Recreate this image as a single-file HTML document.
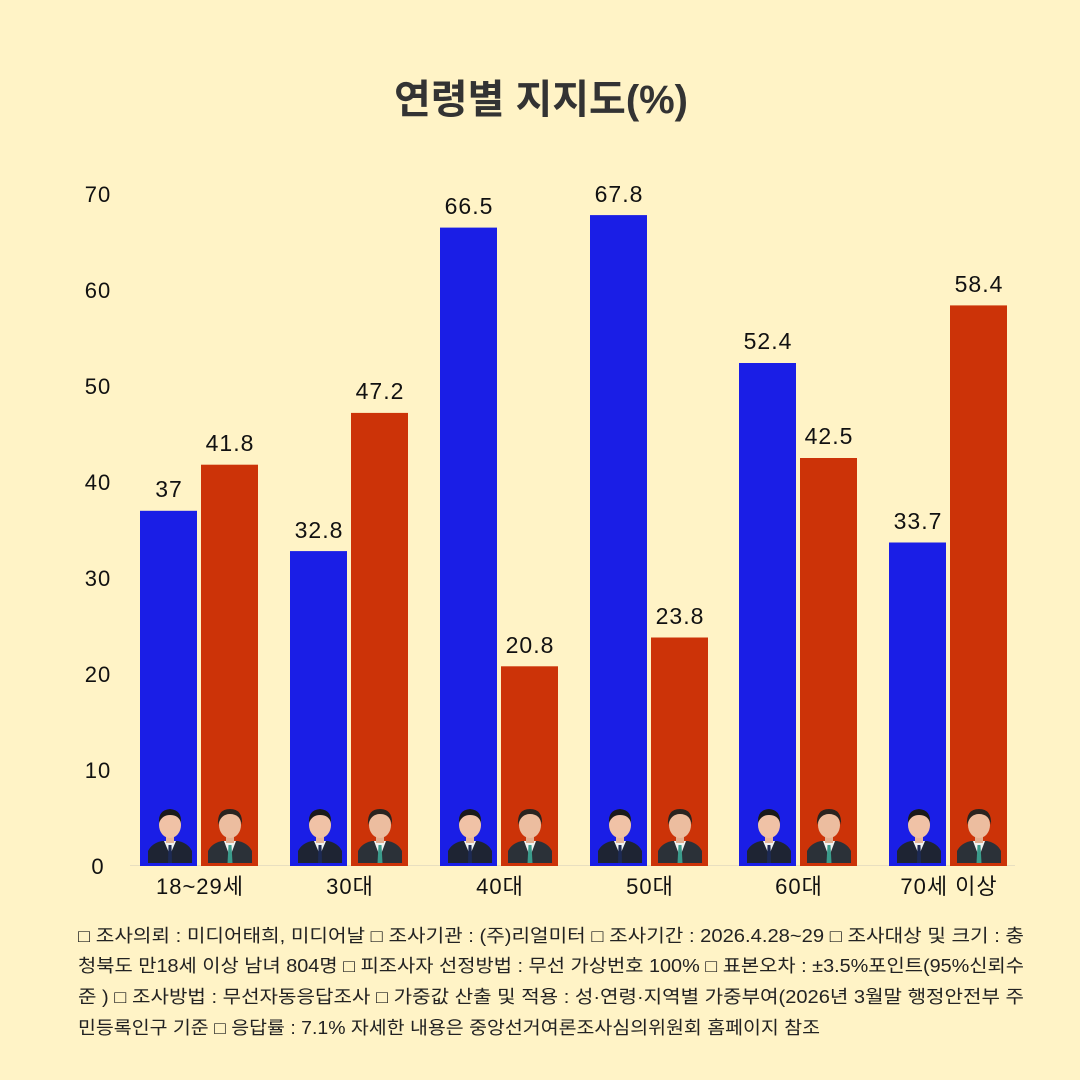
<!DOCTYPE html>
<html><head><meta charset="utf-8"><style>
html,body{margin:0;padding:0;background:#fff3c6;}
svg{display:block;font-family:"Liberation Sans","Noto Sans CJK KR",sans-serif;}
</style></head><body>
<svg width="1080" height="1080" viewBox="0 0 1080 1080" xmlns="http://www.w3.org/2000/svg">
<defs>
<symbol id="p1" viewBox="0 0 44 58">
<path d="M0 58 L0 46 Q4 38 14 36 L30 36 Q40 38 44 46 L44 58 Z" fill="#1e2433"/>
<path d="M16 36 L22 50 L28 36 Z" fill="#f2f2f2"/>
<path d="M20.5 40 L23.5 40 L24 58 L20 58 Z" fill="#1d2a55"/>
<rect x="18" y="30" width="8" height="8" fill="#e9b89a"/>
<ellipse cx="22" cy="20" rx="11" ry="13" fill="#f0c2a6"/>
<path d="M11 18 Q10 5 22 4 Q34 5 33 18 Q31 10 22 10 Q14 10 11 18 Z" fill="#1a1a1a"/>
</symbol>
<symbol id="p2" viewBox="0 0 44 58">
<path d="M0 58 L0 46 Q4 38 14 36 L30 36 Q40 38 44 46 L44 58 Z" fill="#2b3138"/>
<path d="M16 36 L22 52 L28 36 Z" fill="#f2f2f2"/>
<path d="M20.5 40 L23.5 40 L24.5 58 L19.5 58 Z" fill="#3a9a8a"/>
<rect x="18" y="30" width="8" height="8" fill="#e2b092"/>
<ellipse cx="22" cy="20" rx="11" ry="13" fill="#ecbd9f"/>
<path d="M10 20 Q9 4 22 4 Q35 4 34 20 Q32 9 22 9 Q13 9 10 20 Z" fill="#2a2420"/>
</symbol>
</defs>
<rect width="1080" height="1080" fill="#fff3c6"/>
<text x="394" y="113" font-size="40" font-weight="bold" fill="#333" textLength="294" lengthAdjust="spacingAndGlyphs">연령별 지지도(%)</text>

<g font-size="22" fill="#111" text-anchor="middle" letter-spacing="1">
<text x="98" y="874">0</text>
<text x="98" y="778">10</text>
<text x="98" y="682">20</text>
<text x="98" y="586">30</text>
<text x="98" y="490">40</text>
<text x="98" y="394">50</text>
<text x="98" y="298">60</text>
<text x="98" y="202">70</text>
</g>

<line x1="130" y1="865.5" x2="1015" y2="865.5" stroke="#e8dfc0" stroke-width="1"/>

<g>
<rect x="140" y="510.8" width="57" height="355.2" fill="#1a1ee6"/>
<rect x="201" y="464.7" width="57" height="401.3" fill="#cc3308"/>
<rect x="290" y="551.1" width="57" height="314.9" fill="#1a1ee6"/>
<rect x="351" y="412.9" width="57" height="453.1" fill="#cc3308"/>
<rect x="440" y="227.6" width="57" height="638.4" fill="#1a1ee6"/>
<rect x="501" y="666.3" width="57" height="199.7" fill="#cc3308"/>
<rect x="590" y="215.1" width="57" height="650.9" fill="#1a1ee6"/>
<rect x="651" y="637.5" width="57" height="228.5" fill="#cc3308"/>
<rect x="739" y="363" width="57" height="503" fill="#1a1ee6"/>
<rect x="800" y="458" width="57" height="408" fill="#cc3308"/>
<rect x="889" y="542.5" width="57" height="323.5" fill="#1a1ee6"/>
<rect x="950" y="305.4" width="57" height="560.6" fill="#cc3308"/>
</g>

<g>
<use href="#p1" x="148" y="805" width="44" height="58"/>
<use href="#p2" x="208" y="805" width="44" height="58"/>
<use href="#p1" x="298" y="805" width="44" height="58"/>
<use href="#p2" x="358" y="805" width="44" height="58"/>
<use href="#p1" x="448" y="805" width="44" height="58"/>
<use href="#p2" x="508" y="805" width="44" height="58"/>
<use href="#p1" x="598" y="805" width="44" height="58"/>
<use href="#p2" x="658" y="805" width="44" height="58"/>
<use href="#p1" x="747" y="805" width="44" height="58"/>
<use href="#p2" x="807" y="805" width="44" height="58"/>
<use href="#p1" x="897" y="805" width="44" height="58"/>
<use href="#p2" x="957" y="805" width="44" height="58"/>
</g>

<g font-size="23" fill="#111" text-anchor="middle" letter-spacing="1">
<text x="169" y="497">37</text>
<text x="230" y="451">41.8</text>
<text x="319" y="538">32.8</text>
<text x="380" y="399">47.2</text>
<text x="469" y="214">66.5</text>
<text x="530" y="653">20.8</text>
<text x="619" y="202">67.8</text>
<text x="680" y="624">23.8</text>
<text x="768" y="349">52.4</text>
<text x="829" y="444">42.5</text>
<text x="918" y="529">33.7</text>
<text x="979" y="292">58.4</text>
</g>

<g font-size="22" fill="#111" text-anchor="middle" letter-spacing="1">
<text x="200" y="894">18~29세</text>
<text x="350" y="894">30대</text>
<text x="500" y="894">40대</text>
<text x="650" y="894">50대</text>
<text x="799" y="894">60대</text>
<text x="949" y="894">70세 이상</text>
</g>

<g font-size="18" fill="#222">
<text x="78" y="942" textLength="946" lengthAdjust="spacingAndGlyphs">□ 조사의뢰 : 미디어태희, 미디어날 □ 조사기관 : (주)리얼미터 □ 조사기간 : 2026.4.28~29 □ 조사대상 및 크기 : 충</text>
<text x="78" y="972" textLength="946" lengthAdjust="spacingAndGlyphs">청북도 만18세 이상 남녀 804명 □ 피조사자 선정방법 : 무선 가상번호 100% □ 표본오차 : ±3.5%포인트(95%신뢰수</text>
<text x="78" y="1003" textLength="946" lengthAdjust="spacingAndGlyphs">준 ) □ 조사방법 : 무선자동응답조사 □ 가중값 산출 및 적용 : 성·연령·지역별 가중부여(2026년 3월말 행정안전부 주</text>
<text x="78" y="1034" textLength="742" lengthAdjust="spacingAndGlyphs">민등록인구 기준 □ 응답률 : 7.1%  자세한 내용은 중앙선거여론조사심의위원회 홈페이지 참조</text>
</g>
</svg>
</body></html>
